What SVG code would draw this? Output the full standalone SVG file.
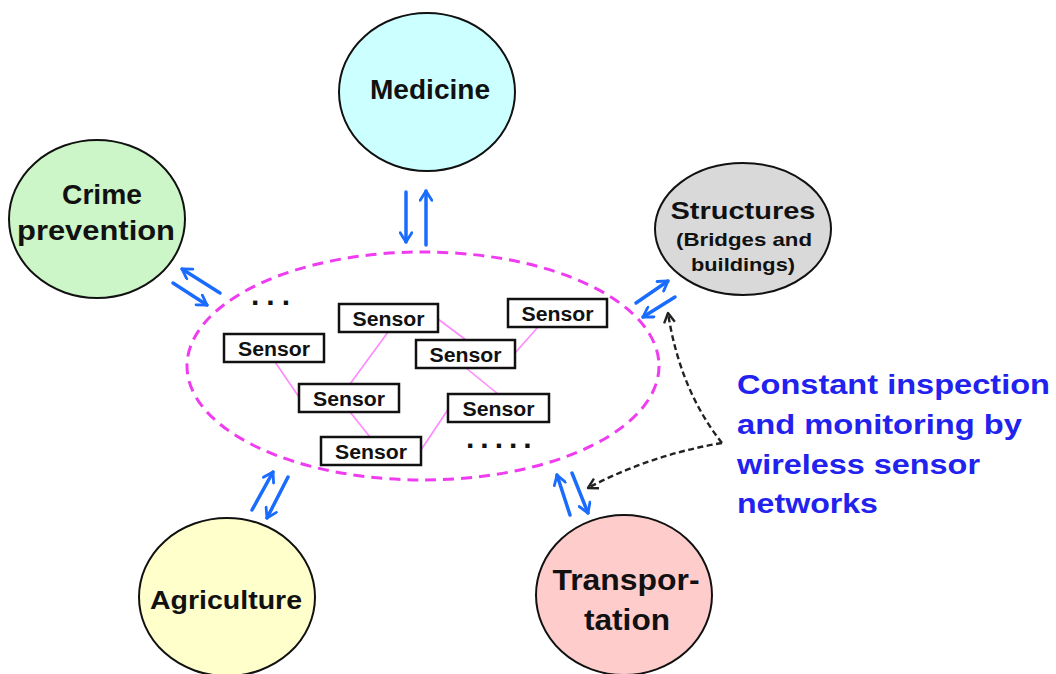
<svg xmlns="http://www.w3.org/2000/svg" width="1056" height="674" viewBox="0 0 1056 674">
<defs>
<style>
.node{stroke:#111;stroke-width:2}
.lbl{font-family:"Liberation Sans",Arial,sans-serif;font-weight:bold;fill:#111;text-anchor:middle}
.sbox{fill:#fff;stroke:#111;stroke-width:2.5}
.stxt{font-family:"Liberation Sans",Arial,sans-serif;font-weight:bold;font-size:20px;fill:#111;text-anchor:middle}
.dots{font-family:"Liberation Sans",Arial,sans-serif;font-weight:bold;font-size:30px;fill:#111}
.link{stroke:#ff88ff;stroke-width:1.6;fill:none}
.barrow{stroke:#1a6cff;stroke-width:3.5;fill:none;stroke-linecap:round;marker-end:url(#bh)}
.darrow{stroke:#222;stroke-width:2.4;fill:none;stroke-dasharray:6 3.5;marker-end:url(#dh)}
.note{font-family:"Liberation Sans",Arial,sans-serif;font-weight:bold;font-size:28px;fill:#2222ee}
</style>
<marker id="bh" viewBox="0 0 12 12" refX="10" refY="6" markerWidth="4" markerHeight="4" markerUnits="strokeWidth" orient="auto">
<polyline points="2,1 10,6 2,11" fill="none" stroke="#1a6cff" stroke-width="2.4" stroke-linecap="round" stroke-linejoin="round"/>
</marker>
<marker id="dh" viewBox="0 0 12 12" refX="10" refY="6" markerWidth="6" markerHeight="6" markerUnits="strokeWidth" orient="auto">
<polyline points="2,1.5 10,6 2,10.5" fill="none" stroke="#222" stroke-width="2" stroke-linejoin="round"/>
</marker>
</defs>
<rect width="1056" height="674" fill="#fff"/>

<g id="network">
<ellipse cx="423" cy="366" rx="236" ry="114" fill="none" stroke="#f03cf0" stroke-width="3" stroke-dasharray="11 7"/>
<text class="dots" x="251" y="305" letter-spacing="7">...</text>
<text class="dots" x="466" y="448" letter-spacing="6">.....</text>
</g>

<g id="links">
<line class="link" x1="275" y1="362" x2="299" y2="397"/>
<line class="link" x1="388" y1="332" x2="350" y2="384"/>
<line class="link" x1="438" y1="319" x2="466" y2="340"/>
<line class="link" x1="538" y1="327" x2="515" y2="353"/>
<line class="link" x1="466" y1="368" x2="498" y2="394"/>
<line class="link" x1="350" y1="412" x2="370" y2="437"/>
<line class="link" x1="449" y1="408" x2="421" y2="450"/>
</g>

<g id="sensor1"><rect class="sbox" x="339" y="304" width="99" height="28"/><text class="stxt" x="388.5" y="326" textLength="72" lengthAdjust="spacingAndGlyphs">Sensor</text></g>
<g id="sensor2"><rect class="sbox" x="224" y="334" width="100" height="28"/><text class="stxt" x="274" y="356" textLength="72" lengthAdjust="spacingAndGlyphs">Sensor</text></g>
<g id="sensor3"><rect class="sbox" x="508" y="299" width="99" height="28"/><text class="stxt" x="557.5" y="321" textLength="72" lengthAdjust="spacingAndGlyphs">Sensor</text></g>
<g id="sensor4"><rect class="sbox" x="416" y="340" width="99" height="28"/><text class="stxt" x="465.5" y="362" textLength="72" lengthAdjust="spacingAndGlyphs">Sensor</text></g>
<g id="sensor5"><rect class="sbox" x="299" y="384" width="100" height="28"/><text class="stxt" x="349" y="406" textLength="72" lengthAdjust="spacingAndGlyphs">Sensor</text></g>
<g id="sensor6"><rect class="sbox" x="448" y="394" width="101" height="28"/><text class="stxt" x="498.5" y="416" textLength="72" lengthAdjust="spacingAndGlyphs">Sensor</text></g>
<g id="sensor7"><rect class="sbox" x="321" y="437" width="100" height="28"/><text class="stxt" x="371" y="459" textLength="72" lengthAdjust="spacingAndGlyphs">Sensor</text></g>

<g id="medicine"><ellipse class="node" cx="427" cy="92" rx="88" ry="79" fill="#ccffff"/><text class="lbl" x="430" y="99" font-size="27" textLength="120" lengthAdjust="spacingAndGlyphs">Medicine</text></g>
<g id="crime"><ellipse class="node" cx="97" cy="219" rx="88" ry="79" fill="#ccf5c8"/><text class="lbl" x="102" y="204" font-size="27" textLength="80" lengthAdjust="spacingAndGlyphs">Crime</text><text class="lbl" x="96" y="240" font-size="27" textLength="158" lengthAdjust="spacingAndGlyphs">prevention</text></g>
<g id="structures"><ellipse class="node" cx="743" cy="229" rx="88" ry="66" fill="#d9d9d9"/><text class="lbl" x="743" y="219" font-size="24" textLength="145" lengthAdjust="spacingAndGlyphs">Structures</text><text class="lbl" x="744" y="246" font-size="19" textLength="136" lengthAdjust="spacingAndGlyphs">(Bridges and</text><text class="lbl" x="743" y="271" font-size="19" textLength="104" lengthAdjust="spacingAndGlyphs">buildings)</text></g>
<g id="agriculture"><ellipse class="node" cx="227" cy="597" rx="88" ry="79" fill="#ffffcc"/><text class="lbl" x="226" y="609" font-size="26" textLength="152" lengthAdjust="spacingAndGlyphs">Agriculture</text></g>
<g id="transportation"><ellipse class="node" cx="624" cy="595" rx="88" ry="80" fill="#ffcccc"/><text class="lbl" x="626" y="590" font-size="30" textLength="147" lengthAdjust="spacingAndGlyphs">Transpor-</text><text class="lbl" x="627" y="630" font-size="30" textLength="86" lengthAdjust="spacingAndGlyphs">tation</text></g>

<g id="connectors">
<line class="barrow" x1="406" y1="192" x2="406" y2="242"/>
<line class="barrow" x1="426" y1="245" x2="426" y2="191"/>
<line class="barrow" x1="220" y1="293" x2="182" y2="269"/>
<line class="barrow" x1="173" y1="283" x2="207" y2="305"/>
<line class="barrow" x1="636" y1="303" x2="668" y2="281"/>
<line class="barrow" x1="675" y1="297" x2="643" y2="317"/>
<line class="barrow" x1="252" y1="510" x2="273" y2="472"/>
<line class="barrow" x1="288" y1="477" x2="267" y2="518"/>
<line class="barrow" x1="570" y1="515" x2="557" y2="475"/>
<line class="barrow" x1="572" y1="473" x2="588" y2="513"/>
<path class="darrow" d="M722,443 Q680,390 668,313"/>
<path class="darrow" d="M722,443 Q650,455 588,488"/>
</g>

<g id="caption">
<text class="note" x="737" y="394" textLength="313" lengthAdjust="spacingAndGlyphs">Constant inspection</text>
<text class="note" x="737" y="434" textLength="285" lengthAdjust="spacingAndGlyphs">and monitoring by</text>
<text class="note" x="737" y="474" textLength="243" lengthAdjust="spacingAndGlyphs">wireless sensor</text>
<text class="note" x="737" y="513" textLength="141" lengthAdjust="spacingAndGlyphs">networks</text>
</g>
</svg>
